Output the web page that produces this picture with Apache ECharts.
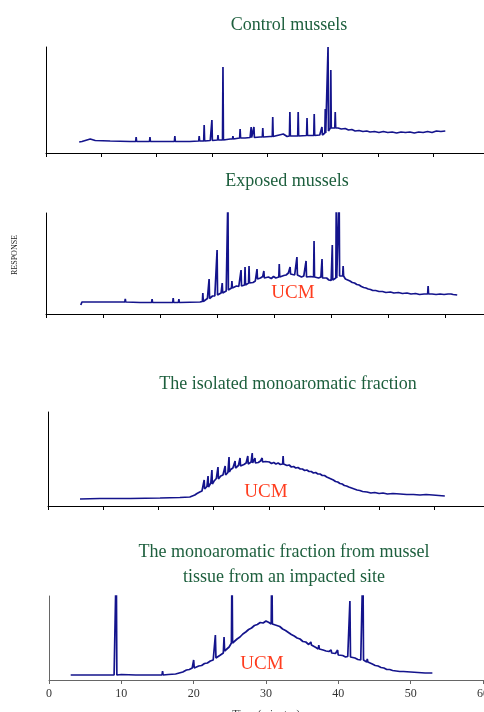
<!DOCTYPE html>
<html>
<head>
<meta charset="utf-8">
<script src="https://cdn.jsdelivr.net/npm/echarts@6/dist/echarts.min.js"></script>
<style>
  html, body { margin: 0; padding: 0; background: #fff; }
  #chart { width: 484px; height: 712px; }
</style>
</head>
<body>
<div id="chart"></div>
<script>
// chromatogram traces: baseline [time, response] + sharp peaks [time, base, top]
const titles = [
  ['Control mussels'],
  ['Exposed mussels'],
  ['The isolated monoaromatic fraction'],
  ['The monoaromatic fraction from mussel', 'tissue from an impacted site']
];
const ucmLabel = 'UCM';
const yAxisName = 'RESPONSE';
const xAxisName = 'Time (minutes)';
const timeTicks = [0, 10, 20, 30, 40, 50, 60];

const controlBase = [
  [6.0, 11], [6.5, 11.5], [8.0, 14], [8.9, 12.5], [11.6, 12], [15.2, 11.5], [19.5, 11.5],
  [22.4, 11.5], [26.0, 11.5], [27.8, 12], [29.7, 12.5], [31.5, 13], [33.3, 14], [35.4, 16],
  [36.0, 15], [36.9, 15.5], [38.7, 16], [40.5, 16.5], [42.9, 19], [43.6, 16.5], [45.9, 17],
  [47.7, 17.5], [49.5, 18], [50.2, 19], [51.2, 24], [52.8, 25], [53.4, 24], [54.1, 24.5],
  [54.7, 23], [55.3, 23.5], [55.9, 22], [56.6, 22.5], [57.3, 21.5], [58.0, 22], [58.6, 21],
  [59.4, 21.5], [60.2, 20.5], [61.0, 21.5], [61.8, 20.5], [62.6, 21], [63.4, 20], [64.2, 21],
  [65.0, 20.5], [65.8, 21], [66.6, 20], [67.4, 21], [68.2, 20.5], [69.0, 21.5], [69.8, 20.5],
  [70.6, 22], [71.4, 21.5], [72.2, 22]
];
const controlPeaks = [
  [16.3, 11.5, 16], [18.8, 11.5, 16], [23.3, 11.5, 17], [27.7, 12, 17], [28.6, 12, 28],
  [30.0, 12.5, 33], [31.1, 13, 18], [32.0, 13, 86], [33.8, 14, 17], [35.1, 15, 24],
  [37.1, 15.5, 26], [37.6, 15.5, 26], [39.2, 16, 25], [41.0, 16.5, 36], [44.1, 17, 41],
  [45.6, 17, 41], [47.2, 17.5, 35], [48.5, 17.5, 39], [49.9, 18, 26], [50.5, 20, 44],
  [51.0, 22, 106], [51.5, 25, 83], [52.3, 25, 41]
];

const exposedBase = [
  [6.1, 9], [6.3, 12], [9.5, 12], [13.0, 12], [16.5, 11.5], [20.0, 11.5], [23.5, 11.5],
  [27.0, 12], [27.9, 14], [28.3, 15.5], [28.8, 16], [29.2, 18], [29.6, 18], [30.3, 20.5],
  [30.7, 21], [31.2, 23], [31.6, 23], [32.2, 25.5], [33.0, 26], [33.4, 28], [33.8, 27.5],
  [34.5, 29.5], [35.2, 30], [35.9, 32], [36.3, 31.5], [36.7, 33], [37.2, 37], [37.6, 36],
  [38.0, 37.5], [38.6, 35.5], [39.0, 37], [39.5, 35.5], [39.9, 37.5], [40.3, 36], [40.6, 37.5],
  [41.3, 36.5], [41.7, 38.5], [42.1, 39], [42.5, 41], [43.2, 40], [43.6, 39], [44.3, 38],
  [44.8, 37], [45.2, 38], [46.0, 36.5], [46.4, 37.5], [46.7, 36], [47.4, 37.5], [47.8, 36],
  [48.2, 37], [48.8, 35.5], [49.2, 36], [49.6, 34], [50.0, 33.5], [50.6, 35], [51.7, 39],
  [52.5, 35], [52.9, 34], [53.3, 33], [53.7, 31.5], [54.1, 31], [54.5, 29.5], [54.9, 29],
  [55.3, 27.5], [55.7, 26.5], [56.1, 26], [56.5, 25], [56.9, 24.5], [57.3, 23.5], [57.8, 23.5],
  [58.4, 22.5], [59.0, 22.5], [59.6, 21.5], [60.4, 22], [61.0, 21], [61.8, 21.5], [62.5, 20.5],
  [63.3, 21], [64.0, 20], [64.8, 20.5], [65.5, 19.5], [66.3, 20], [67.7, 20], [68.4, 19.5],
  [69.1, 20], [69.8, 19.5], [70.5, 20], [71.4, 19.5], [72.1, 19]
];
const exposedPeaks = [
  [13.9, 12, 15], [18.6, 11.5, 15], [22.3, 11.5, 16], [23.3, 11.5, 15], [27.5, 12.5, 21],
  [28.6, 15.5, 35], [30.0, 19, 64], [30.9, 21, 31], [31.9, 24, 120], [32.6, 26, 33],
  [34.2, 28, 44], [34.9, 29, 47], [35.6, 31, 48], [37.0, 35, 45], [38.2, 36, 43],
  [40.9, 37, 50], [42.8, 40, 47], [44.0, 39, 57], [45.6, 37, 53], [47.0, 37, 73],
  [48.4, 36, 55], [50.2, 34, 69], [50.9, 36, 120], [51.4, 38, 120], [52.1, 38, 48],
  [67.0, 20, 28], [71.1, 20, 22]
];

const isolatedBase = [
  [5.8, 7], [9.4, 7.5], [14.9, 7.5], [20.3, 8], [23.9, 8.5], [25.7, 9], [26.6, 11],
  [27.0, 12.5], [27.5, 14], [27.9, 15], [28.5, 17], [28.8, 19.5], [29.3, 21], [29.5, 23],
  [30.1, 25], [30.5, 27.5], [31.0, 28], [31.3, 30], [31.7, 31], [32.3, 33], [32.6, 33.5],
  [33.1, 36.5], [33.5, 38], [34.2, 38], [34.5, 40.5], [35.1, 41], [35.5, 41.5], [35.9, 43],
  [36.5, 42.5], [36.8, 44], [37.8, 45], [38.1, 43.5], [38.5, 45], [39.1, 43.5], [39.4, 44.5],
  [39.7, 42.5], [40.1, 44], [40.5, 42.5], [40.9, 43.5], [41.3, 42], [41.7, 43], [42.1, 41.5],
  [42.9, 42], [43.3, 40.5], [43.7, 41], [44.1, 39], [44.5, 39.5], [44.9, 38], [45.3, 38.5],
  [45.7, 37], [46.1, 37], [46.5, 35.5], [46.9, 36], [47.3, 34.5], [47.7, 34.5], [48.1, 33],
  [48.5, 33.5], [48.9, 32], [49.3, 32], [49.7, 30.5], [50.1, 30.5], [50.5, 29], [50.9, 28],
  [51.3, 27], [51.7, 26], [52.1, 24.5], [52.5, 24], [52.9, 22.5], [53.3, 22], [53.7, 20.5],
  [54.1, 20], [54.5, 19], [55.0, 18], [55.5, 17], [56.0, 16], [56.5, 15.5], [57.0, 14.5],
  [57.8, 14], [58.5, 13], [59.2, 13.5], [60.0, 12.5], [60.7, 13], [61.5, 12], [62.5, 12.5],
  [63.8, 12], [65.0, 11.5], [66.2, 11.5], [67.4, 11], [68.5, 11.5], [69.7, 11], [70.8, 10.5],
  [71.9, 10]
];
const isolatedPeaks = [
  [28.3, 17, 26], [29.0, 19, 30], [29.7, 22, 36], [30.8, 27, 39], [32.1, 31, 40],
  [32.8, 34, 49], [33.9, 38, 45], [34.8, 40, 48], [36.2, 42, 50], [37.0, 43, 53],
  [37.5, 43, 48], [38.8, 44, 48], [42.6, 42, 50]
];

const impactedBase = [
  [3.0, 5], [5.0, 5], [8.0, 5], [9.0, 5], [10.0, 5.5], [12.0, 5], [15.0, 5], [16.5, 5.5],
  [17.5, 6], [18.0, 7], [18.5, 8], [19.0, 10], [19.4, 10.5], [19.8, 12], [20.3, 12.5],
  [20.7, 14], [21.1, 14.5], [21.5, 16.5], [21.9, 17], [22.3, 19], [22.7, 20], [23.3, 23],
  [23.7, 25], [24.1, 27], [24.5, 30], [24.9, 33], [25.6, 38], [26.0, 41], [26.4, 43],
  [26.8, 46], [27.2, 48], [27.6, 50.5], [28.0, 52], [28.4, 54.5], [28.8, 55.5], [29.2, 57.5],
  [29.6, 57], [30.0, 59], [30.4, 57.5], [31.1, 57], [31.5, 54.5], [31.9, 53.5], [32.3, 51],
  [32.7, 49.5], [33.1, 47.5], [33.5, 45.5], [33.9, 44], [34.3, 42], [34.7, 41], [35.1, 38.5],
  [35.5, 38], [35.9, 35.5], [36.5, 34.5], [36.9, 32.5], [37.5, 31.5], [37.9, 30], [38.3, 29],
  [38.7, 28.5], [39.3, 26.5], [39.6, 26.5], [40.2, 24.5], [40.6, 24.5], [41.0, 23], [41.3, 23.5],
  [41.9, 22], [42.3, 22], [42.7, 20.5], [43.1, 20], [43.7, 19], [44.3, 17], [44.7, 16],
  [45.1, 14.5], [45.5, 14], [45.9, 12.5], [46.3, 12], [46.7, 10.5], [47.1, 10.5], [47.5, 9.5],
  [48.0, 9], [48.5, 8.5], [49.0, 8.5], [50.0, 8], [51.0, 7.5], [52.0, 7], [53.0, 7]
];
const impactedPeaks = [
  [9.3, 5, 120], [15.7, 5, 9], [20.0, 12, 20], [23.0, 22, 45], [24.2, 29, 43],
  [25.3, 37, 120], [30.8, 56, 120], [36.2, 35, 38], [37.3, 31, 35], [39.0, 27, 30],
  [39.9, 25, 30], [41.6, 23, 79], [43.4, 20, 120], [44.0, 18, 21]
];

const traceColor = '#14148c';
const titleColor = '#1d5f3d';
const ucmColor = '#ff3d1f';
const serif = '"Liberation Serif", "DejaVu Serif", serif';

// merge baseline and peaks into one ordered trace
function buildTrace(base, peaks) {
  const pts = base.map((p) => [p[0], p[1]]);
  peaks.forEach(([t, b, top]) => {
    pts.push([t - 0.08, b], [t, top], [t + 0.08, b]);
  });
  return pts.sort((a, b) => a[0] - b[0]);
}

const panels = [
  { base: controlBase, peaks: controlPeaks, grid: { left: 46, top: 47, width: 438, height: 106 }, max: 79.2 },
  { base: exposedBase, peaks: exposedPeaks, grid: { left: 46, top: 213, width: 438, height: 101 }, max: 76.8 },
  { base: isolatedBase, peaks: isolatedPeaks, grid: { left: 48, top: 412, width: 436, height: 94 }, max: 79.0 },
  { base: impactedBase, peaks: impactedPeaks, grid: { left: 49, top: 596, width: 434, height: 84 }, max: 60 },
];

const chart = echarts.init(document.getElementById('chart'));

const option = {
  backgroundColor: '#fff',
  animation: false,
  grid: panels.map((p) => ({ ...p.grid, containLabel: false, outerBoundsMode: 'none' })),
  xAxis: panels.map((p, i) => {
    const last = i === panels.length - 1;
    return {
      type: 'value',
      gridIndex: i,
      min: 0,
      max: p.max,
      interval: 10,
      axisLine: { lineStyle: { color: last ? '#666' : '#000', width: 1 } },
      axisTick: { show: true, length: 4, lineStyle: { color: last ? '#666' : '#000' } },
      axisLabel: {
        show: last,
        color: '#333',
        fontFamily: serif,
        fontSize: 12,
        margin: 8,
        hideOverlap: false,
        formatter: (v) => (timeTicks.includes(v) ? String(v) : ''),
      },
      splitLine: { show: false },
      name: last ? xAxisName : '',
      nameLocation: 'middle',
      nameGap: 29,
      nameMoveOverlap: false,
      nameTextStyle: { color: '#333', fontFamily: serif, fontSize: 11 },
    };
  }),
  yAxis: panels.map((p, i) => ({
    type: 'value',
    gridIndex: i,
    min: 0,
    max: p.grid.height,
    axisLine: { show: true, lineStyle: { color: i === 3 ? '#666' : '#000', width: 1 } },
    axisTick: { show: false },
    axisLabel: { show: false },
    splitLine: { show: false },
  })),
  series: panels.map((p, i) => ({
    type: 'line',
    xAxisIndex: i,
    yAxisIndex: i,
    data: buildTrace(p.base, p.peaks),
    showSymbol: false,
    clip: true,
    lineStyle: { color: traceColor, width: 1.7 },
  })),
  graphic: [
    { type: 'text', x: 289, y: 25, style: { text: titles[0][0], fill: titleColor, font: '18px ' + serif, textAlign: 'center', textVerticalAlign: 'middle' } },
    { type: 'text', x: 287, y: 181, style: { text: titles[1][0], fill: titleColor, font: '18px ' + serif, textAlign: 'center', textVerticalAlign: 'middle' } },
    { type: 'text', x: 288, y: 384, style: { text: titles[2][0], fill: titleColor, font: '18px ' + serif, textAlign: 'center', textVerticalAlign: 'middle' } },
    { type: 'text', x: 284, y: 552, style: { text: titles[3][0], fill: titleColor, font: '18px ' + serif, textAlign: 'center', textVerticalAlign: 'middle' } },
    { type: 'text', x: 284, y: 577, style: { text: titles[3][1], fill: titleColor, font: '18px ' + serif, textAlign: 'center', textVerticalAlign: 'middle' } },
    { type: 'text', x: 293, y: 293, style: { text: ucmLabel, fill: ucmColor, font: '19px ' + serif, textAlign: 'center', textVerticalAlign: 'middle' } },
    { type: 'text', x: 266, y: 492, style: { text: ucmLabel, fill: ucmColor, font: '19px ' + serif, textAlign: 'center', textVerticalAlign: 'middle' } },
    { type: 'text', x: 262, y: 664, style: { text: ucmLabel, fill: ucmColor, font: '19px ' + serif, textAlign: 'center', textVerticalAlign: 'middle' } },
    { type: 'text', x: 15, y: 255, rotation: Math.PI / 2, style: { text: yAxisName, fill: '#222', font: '8px ' + serif, textAlign: 'center', textVerticalAlign: 'middle' } },
  ],
};

chart.setOption(option);
</script>
</body>
</html>
